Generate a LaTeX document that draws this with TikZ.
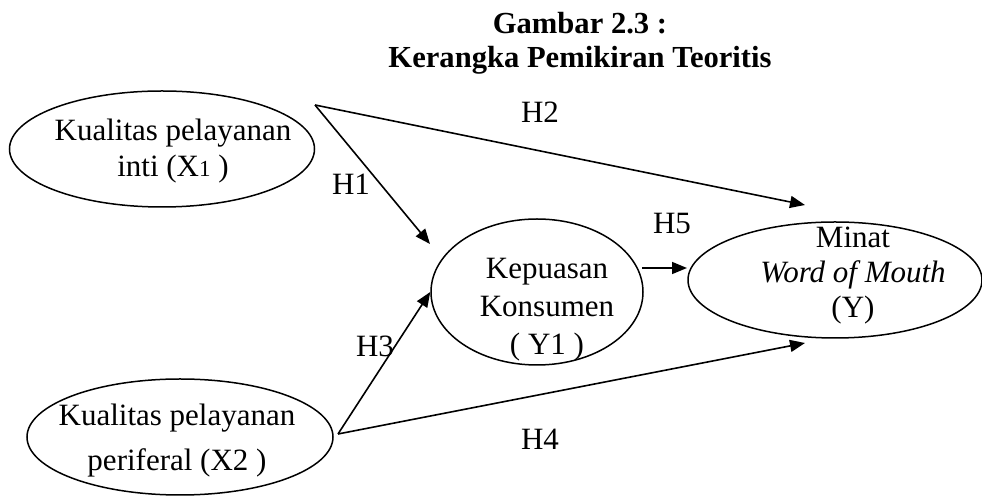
\documentclass[tikz,border=0pt]{standalone}
\usepackage{fontspec}
\setmainfont{Liberation Serif}
\usetikzlibrary{positioning,arrows.meta,shapes.geometric}

\begin{document}
\begin{tikzpicture}[x=0.5pt,y=-0.5pt,font=\fontsize{15.5}{18}\selectfont,
  >={Triangle[length=7.5pt,width=6pt]},
  e/.style={draw,ellipse,line width=0.75pt,inner sep=0pt},
  t/.style={align=center,inner sep=0pt},
  a/.style={->,line width=0.8pt}]
  \useasboundingbox (0,0) rectangle (982,496);
  \node[t,font=\fontsize{15.3}{17}\selectfont\bfseries] (title) at (580,43) {Gambar 2.3 :\\ Kerangka Pemikiran Teoritis};
  % variabel
  \node[e,minimum width=152.5pt,minimum height=58pt] (x1) at (162,149) {};
  \node[e,minimum width=153pt,minimum height=58pt] (x2) at (180,437) {};
  \node[e,minimum width=106pt,minimum height=73pt] (y1) at (537,292) {};
  \node[e,minimum width=147pt,minimum height=58pt] (y) at (835,280) {};
  \node[t] (x1txt) at (173,151) {Kualitas pelayanan\\ inti (X{\fontsize{11.5}{12}\selectfont 1} )};
  \node[t,font=\fontsize{15.5}{22.5}\selectfont] (x2txt) at (177,441) {Kualitas pelayanan\\ periferal (X2 )};
  \node[t,font=\fontsize{15.5}{19}\selectfont] (y1txt) at (547,310) {Kepuasan\\ Konsumen\\ ( Y1 )};
  \node[t,font=\fontsize{15.5}{17.5}\selectfont] (ytxt) at (853,276) {Minat\\ \textit{Word of Mouth}\\ (Y)};
  % hipotesis
  \coordinate (s1) at (315,105);
  \coordinate (s2) at (338,434);
  \coordinate (h1end) at (430,244);
  \coordinate (h2end) at (805,205);
  \coordinate (h4end) at (805,343);
  \coordinate (h5start) at (642,268);
  \coordinate (h5end) at (687,268);
  \draw[a] (s1) -- (h2end);
  \draw[a] (s1) -- (h1end);
  \draw[a] (s2) -- (y1.west);
  \draw[a] (s2) -- (h4end);
  \draw[a] (h5start) -- (h5end);
  \node (h1) at (351,184) {H1};
  \node (h2) at (540,112) {H2};
  \node (h3) at (375,346) {H3};
  \node (h4) at (540,439) {H4};
  \node (h5) at (672,224) {H5};
\end{tikzpicture}
\end{document}
